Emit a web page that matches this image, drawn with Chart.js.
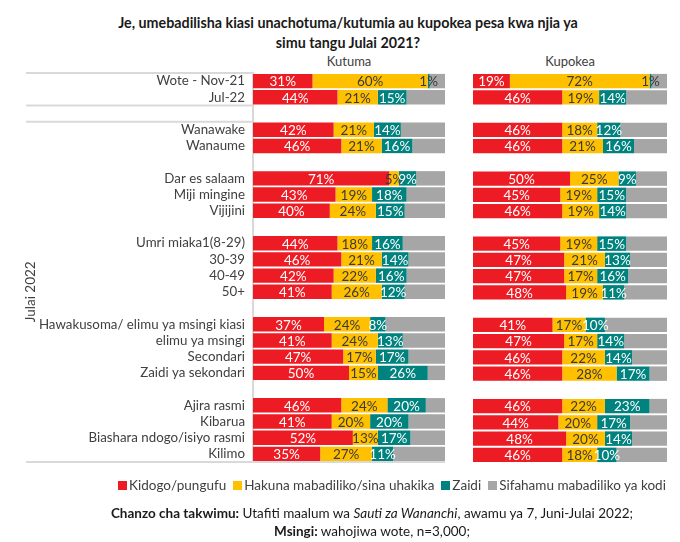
<!DOCTYPE html>
<html>
<head>
<meta charset="utf-8">
<script src="https://cdn.jsdelivr.net/npm/chart.js@4.4.0/dist/chart.umd.min.js"></script>
<style>
    body { margin: 0; width: 680px; height: 542px; background: #fff; position: relative; overflow: hidden;
           font-family: Lato, 'Open Sans', sans-serif; color: #262626; }
    #title { position: absolute; top: 13px; left: 0; width: 696px; text-align: center; font-weight: bold; font-size: 14.3px; line-height: 20px; color: #1a1a1a; }
    .head { position: absolute; top: 53px; font-size: 13px; color: #404040; text-align: center; width: 192px; }
    #leftWrap { position: absolute; left: 0; top: 0; width: 455px; height: 478px; }
    #rightWrap { position: absolute; left: 455px; top: 0; width: 225px; height: 470px; }
    #legend { position: absolute; top: 477px; left: 104px; width: 576px; display: flex; justify-content: center; gap: 7px; font-size: 13.5px; color: #404040; }
    #legend span.sw { display: inline-block; width: 9px; height: 9px; margin-right: 2px; vertical-align: 0px; }
    #footer { position: absolute; top: 504px; left: 0; width: 744px; text-align: center; font-size: 13.5px; line-height: 18px; color: #1a1a1a; }
</style>
</head>
<body>
<div id="title">Je, umebadilisha kiasi unachotuma/kutumia au kupokea pesa kwa njia ya<br>simu tangu Julai 2021?</div>
<div class="head" style="left:253px">Kutuma</div>
<div class="head" style="left:474px">Kupokea</div>
<div id="leftWrap"><canvas id="kutumaChart"></canvas></div>
<div id="rightWrap"><canvas id="kupokeaChart"></canvas></div>
<div id="legend"></div>
<div id="footer"><b>Chanzo cha takwimu:</b> Utafiti maalum wa <i>Sauti za Wananchi</i>, awamu ya 7, Juni-Julai 2022;<br><b>Msingi:</b> wahojiwa wote, n=3,000;</div>

<script>
const categories = ["Wote - Nov-21", "Jul-22", "", "Wanawake", "Wanaume", "", "Dar es salaam", "Miji mingine", "Vijijini", "",
    "Umri miaka1(8-29)", "30-39", "40-49", "50+", "", "Hawakusoma/ elimu ya msingi kiasi", "elimu ya msingi", "Secondari",
    "Zaidi ya sekondari", "", "Ajira rasmi", "Kibarua", "Biashara ndogo/isiyo rasmi", "Kilimo"];

const seriesNames = ["Kidogo/pungufu", "Hakuna mabadiliko/sina uhakika", "Zaidi", "Sifahamu mabadiliko ya kodi"];
const seriesColors = ["#ED1C24", "#FFC000", "#00827F", "#A6A6A6"];

// Kutuma
const kutumaKidogo = [31, 44, null, 42, 46, null, 71, 43, 40, null, 44, 46, 42, 41, null, 37, 41, 47, 50, null, 46, 41, 52, 35];
const kutumaHakuna = [60, 21, null, 21, 21, null, 5, 19, 24, null, 18, 21, 22, 26, null, 24, 24, 17, 15, null, 24, 20, 13, 27];
const kutumaZaidi  = [1, 15, null, 14, 16, null, 9, 18, 15, null, 16, 14, 16, 12, null, 8, 13, 17, 26, null, 20, 20, 17, 11];
const kutumaSifahamu = [8, 20, null, 23, 17, null, 15, 20, 21, null, 22, 19, 20, 21, null, 31, 22, 19, 9, null, 10, 19, 18, 27];

// Kupokea
const kupokeaKidogo = [19, 46, null, 46, 46, null, 50, 45, 46, null, 45, 47, 47, 48, null, 41, 47, 46, 46, null, 46, 44, 48, 46];
const kupokeaHakuna = [72, 19, null, 18, 21, null, 25, 19, 19, null, 19, 21, 17, 19, null, 17, 17, 22, 28, null, 22, 20, 20, 18];
const kupokeaZaidi  = [1, 14, null, 12, 16, null, 9, 15, 14, null, 15, 13, 16, 11, null, 10, 14, 14, 17, null, 23, 17, 14, 10];
const kupokeaSifahamu = [8, 21, null, 24, 17, null, 16, 21, 21, null, 21, 19, 20, 22, null, 32, 22, 18, 9, null, 9, 19, 18, 26];

const FONT = "Lato, 'Open Sans', sans-serif";
Chart.defaults.font.family = FONT;
Chart.defaults.animation = false;

document.getElementById("legend").innerHTML = seriesNames.map((n, i) =>
    `<div><span class="sw" style="background:${seriesColors[i]}"></span>${n}</div>`).join("");

// percentage labels inside the bars
const barLabels = {
    id: 'barLabels',
    afterDatasetsDraw(chart) {
        const ctx = chart.ctx;
        ctx.save();
        ctx.font = "13.5px " + FONT;
        ctx.textAlign = 'center';
        ctx.textBaseline = 'middle';
        for (let d = 0; d < 3; d++) {
            const meta = chart.getDatasetMeta(d);
            meta.data.forEach((el, i) => {
                const v = chart.data.datasets[d].data[i];
                if (v == null) return;
                ctx.fillStyle = (d === 1 || v < 3) ? '#3a3a3a' : '#ffffff';
                ctx.fillText(v + '%', (el.x + el.base) / 2, el.y + 1);
            });
        }
        ctx.restore();
    }
};

// category dividers and the rotated group label
const groupLines = {
    id: 'groupLines',
    afterDraw(chart) {
        const ctx = chart.ctx;
        const y = chart.scales.y;
        const area = chart.chartArea;
        const step = (area.bottom - area.top) / categories.length;
        ctx.save();
        ctx.strokeStyle = '#d9d9d9';
        ctx.lineWidth = 2;
        [area.top, area.top + 2 * step, area.top + 3 * step].forEach(py => {
            ctx.beginPath(); ctx.moveTo(26, py); ctx.lineTo(y.right - 1, py); ctx.stroke();
        });
        ctx.beginPath(); ctx.moveTo(26, area.bottom); ctx.lineTo(area.right, area.bottom); ctx.stroke();
        ctx.translate(31, (area.top + 3 * step + area.bottom) / 2);
        ctx.rotate(-Math.PI / 2);
        ctx.font = "13.5px " + FONT;
        ctx.fillStyle = '#404040';
        ctx.textAlign = 'center';
        ctx.textBaseline = 'middle';
        ctx.fillText('Julai 2022', 0, 0);
        ctx.restore();
    }
};

function makeDatasets(a, b, c, d) {
    return [a, b, c, d].map((vals, i) => ({
        label: seriesNames[i],
        data: vals,
        backgroundColor: seriesColors[i],
        barPercentage: 0.89,
        categoryPercentage: 1.0
    }));
}

function makeChart(id, datasets, showLabels, padding) {
    const yScale = {
        stacked: true,
        display: showLabels,
        grid: { display: false, drawTicks: false },
        border: { display: true, color: '#d9d9d9', width: 2 },
        ticks: { color: '#404040', font: { size: 13.3 }, padding: 8, autoSkip: false }
    };
    if (showLabels) yScale.afterFit = s => { s.width = 253; };

    return new Chart(document.getElementById(id), {
        type: 'bar',
        data: { labels: categories, datasets: datasets },
        options: {
            indexAxis: 'y',
            responsive: true, maintainAspectRatio: false,
            layout: { padding: padding },
            plugins: { legend: { display: false }, tooltip: { enabled: false } },
            scales: {
                x: { stacked: true, min: 0, max: 100, display: false },
                y: yScale
            }
        },
        plugins: showLabels ? [barLabels, groupLines] : [barLabels]
    });
}

makeChart('kutumaChart', makeDatasets(kutumaKidogo, kutumaHakuna, kutumaZaidi, kutumaSifahamu), true,
    { top: 73, bottom: 7, left: 0, right: 10 });
makeChart('kupokeaChart', makeDatasets(kupokeaKidogo, kupokeaHakuna, kupokeaZaidi, kupokeaSifahamu), false,
    { top: 73, bottom: 7, left: 18, right: 13 });
</script>
</body>
</html>
